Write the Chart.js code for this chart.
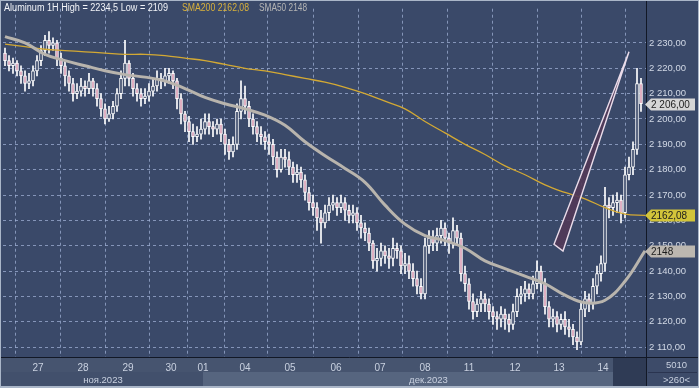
<!DOCTYPE html>
<html>
<head>
<meta charset="utf-8">
<script src="https://cdn.jsdelivr.net/npm/chart.js@4.4.0/dist/chart.umd.min.js"></script>
<style>
  html, body { margin: 0; padding: 0; background: #aab6c8; }
  #wrap { width: 699px; height: 388px; }
</style>
</head>
<body>
<div id="wrap"><canvas id="aluminum" width="699" height="388"></canvas></div>
<script>
// hourly candles, one entry per bar
const open = [2226,2223,2221,2222,2219,2217,2214,2215,2219,2223,2227,2231,2229,2230,2224,2221,2217,2214,2210,2211,
  2213,2212,2215,2212,2208,2204,2200,2202,2205,2210,2216,2222,2216,2212,2210,2208,2209,2211,2213,2216,
  2215,2217,2218,2215,2208,2202,2199,2195,2193,2194,2196,2199,2197,2196,2198,2194,2190,2187,2190,2203,
  2208,2205,2200,2197,2194,2193,2191,2190,2185,2180,2185,2184,2181,2178,2179,2176,2171,2167,2165,2161,
  2159,2163,2166,2167,2165,2167,2164,2162,2163,2159,2157,2155,2151,2144,2145,2148,2146,2145,2149,2148,
  2142,2143,2140,2137,2134,2131,2150,2153,2151,2154,2157,2153,2151,2156,2153,2139,2135,2128,2124,2127,
  2129,2127,2124,2122,2121,2123,2121,2119,2124,2130,2131,2133,2131,2135,2140,2135,2126,2121,2122,2119,
  2121,2118,2117,2114,2112,2125,2129,2127,2134,2139,2143,2166,2165,2167,2168,2163,2178,2181,2188,2214];
const high = [2228,2225,2224,2223,2221,2219,2218,2221,2225,2229,2233,2234.5,2232,2231,2226,2223,2219,2216,2214,2216,
  2215,2218,2216,2214,2210,2206,2205,2207,2212,2219,2231,2223,2218,2214,2212,2212,2214,2216,2219,2218,
  2220,2220,2219,2216,2210,2203,2201,2198,2197,2200,2202,2202,2199,2200,2200,2196,2192,2193,2206,2215,
  2213,2207,2202,2199,2197,2195,2194,2192,2187,2188,2188,2187,2183,2182,2181,2178,2173,2170,2167,2164,
  2166,2169,2170,2169,2170,2169,2166,2166,2165,2162,2159,2157,2152,2149,2151,2150,2149,2153,2151,2150,
  2147,2146,2143,2140,2137,2153,2156,2156,2157,2160,2159,2155,2161,2158,2155,2142,2137,2131,2129,2132,
  2131,2129,2126,2124,2126,2125,2123,2127,2133,2134,2136,2135,2138,2144,2142,2137,2128,2125,2124,2123,
  2124,2121,2119,2116,2128,2132,2131,2137,2142,2146,2173,2169,2170,2171,2170,2181,2185,2191,2220,2216];
const low = [2221,2219,2218,2217,2214,2211,2212,2213,2217,2221,2225,2226,2227,2221,2218,2213,2211,2207,2208,2209,
  2209,2210,2209,2205,2201,2198,2199,2200,2203,2208,2213,2213,2209,2207,2205,2206,2207,2209,2211,2212,
  2213,2214,2212,2204,2198,2195,2191,2190,2191,2192,2194,2194,2193,2194,2191,2186,2184,2185,2188,2200,
  2202,2197,2194,2191,2190,2188,2186,2182,2177,2179,2181,2178,2175,2175,2173,2168,2164,2162,2156,2151,
  2157,2160,2164,2162,2163,2160,2159,2159,2156,2153,2152,2148,2141,2140,2142,2143,2141,2142,2145,2139,
  2139,2137,2134,2131,2129,2129,2147,2148,2148,2151,2150,2147,2149,2150,2136,2132,2125,2121,2122,2124,
  2124,2121,2119,2117,2118,2117,2116,2117,2122,2127,2128,2129,2129,2133,2132,2123,2118,2118,2116,2117,
  2115,2114,2111,2109,2111,2122,2124,2125,2131,2136,2140,2161,2162,2163,2159,2161,2176,2178,2186,2203];
const close = [2223,2221,2222,2219,2217,2214,2215,2219,2223,2227,2231,2229,2230,2224,2221,2217,2214,2210,2211,2213,
  2212,2215,2212,2208,2204,2200,2202,2205,2210,2216,2222,2216,2212,2210,2208,2209,2211,2213,2216,2215,
  2217,2218,2215,2208,2202,2199,2195,2193,2194,2196,2199,2197,2196,2198,2194,2190,2187,2190,2203,2208,
  2205,2200,2197,2194,2193,2191,2190,2185,2180,2185,2184,2181,2178,2179,2176,2171,2167,2165,2161,2159,
  2163,2166,2167,2165,2167,2164,2162,2163,2159,2157,2155,2151,2144,2145,2148,2146,2145,2149,2148,2142,
  2143,2140,2137,2134,2131,2150,2153,2151,2154,2157,2153,2151,2156,2153,2139,2135,2128,2124,2127,2129,
  2127,2124,2122,2121,2123,2121,2119,2124,2130,2131,2133,2131,2135,2140,2135,2126,2121,2122,2119,2121,
  2118,2117,2114,2112,2125,2129,2127,2134,2139,2143,2166,2165,2167,2168,2163,2178,2181,2188,2214,2206];

// moving averages, sampled every 5 bars
const smaPos = [0,5,10,15,20,25,30,35,40,45,50,55,60,65,70,75,80,85,90,95,100,105,110,115,120,125,130,135,140,145,150,155,160];
const sma50 = [2232.5,2230,2225.5,2223,2221,2219,2217.5,2216.5,2215,2212,2208.5,2206,2204,2201.5,2197.5,2191,2185.5,
  2180.5,2175,2166,2158.5,2154,2152,2149,2144,2141,2138,2135,2130.5,2127.5,2128.5,2136,2148];
const sma200 = [2229.5,2228.5,2227.5,2227,2226.5,2226,2225.5,2225.5,2225,2224,2223,2221.5,2220,2219,2217.5,2216,2214.5,
  2212.5,2210,2207,2204,2199,2194.5,2190,2186,2181.5,2178,2174,2171,2168.5,2165,2162.5,2162];

// drawn wedge (bar index, price)
const wedgeX = [137.25, 156, 139.5];
const wedgeY = [2150.6, 2226.5, 2147.9];

const dayLabels = ['27','28','29','30','01','04','05','06','07','08','11','12','13','14'];
const dayPos = [8.25,19.5,30.75,41.5,49.5,60,71.25,82.75,93.75,105,116,127.5,138.5,149.5];
const monthLabels = ['ноя.2023', 'дек.2023'];

const tagValues = [2206, 2162.08, 2148];
const tagTexts = ['2 206,00', '2162,08', '2148'];

const plotBg = '#3a4969';
const gridColor = 'rgba(165,182,220,0.7)';
const FONT = '"Liberation Sans", Arial, sans-serif';

Chart.defaults.font.family = FONT;

const fmtPrice = (v) => Math.floor(v / 1000) + ' ' + String(v % 1000).padStart(3, '0') + ',00';

const decor = {
  id: 'decor',
  beforeDraw(chart) {
    const { ctx, chartArea: a, width, height } = chart;
    const x = chart.scales.x;
    const decX = x.getPixelForValue(dayPos[4]);
    ctx.save();
    ctx.fillStyle = '#aab6c8';
    ctx.fillRect(0, 0, width, height);
    ctx.fillStyle = plotBg;
    ctx.fillRect(1, 1, width - 2, height - 3);
    // x axis band
    ctx.fillStyle = '#46546f';
    ctx.fillRect(1, a.bottom, a.right - 1, height - 2 - a.bottom);
    ctx.fillStyle = '#42506c';
    ctx.fillRect(1, a.bottom + 15, decX - 1, height - 17 - a.bottom);
    ctx.fillStyle = '#56657f';
    ctx.fillRect(decX, a.bottom + 15, 613 - decX, height - 17 - a.bottom);
    ctx.fillStyle = '#2f3b55';
    ctx.fillRect(613, a.bottom, a.right - 613, height - 2 - a.bottom);
    ctx.fillStyle = '#3d4b69';
    ctx.fillRect(a.right, a.bottom, width - 1 - a.right, height - 2 - a.bottom);
    ctx.restore();
  },
  afterDatasetsDraw(chart) {
    const { ctx } = chart;
    const x = chart.scales.x, y = chart.scales.y;
    ctx.save();
    ctx.beginPath();
    wedgeX.forEach((wx, i) => {
      const px = x.getPixelForValue(wx), py = y.getPixelForValue(wedgeY[i]);
      if (i === 0) ctx.moveTo(px, py); else ctx.lineTo(px, py);
    });
    ctx.closePath();
    ctx.fillStyle = 'rgba(82,56,88,0.9)';
    ctx.fill();
    ctx.strokeStyle = '#eadcea';
    ctx.lineWidth = 1.4;
    ctx.stroke();
    ctx.restore();
  },
  afterDraw(chart) {
    const { ctx, chartArea: a, width, height } = chart;
    const x = chart.scales.x, y = chart.scales.y;
    ctx.save();
    // separators
    ctx.strokeStyle = '#121826';
    ctx.lineWidth = 1;
    ctx.beginPath();
    ctx.moveTo(a.right + 0.5, 1); ctx.lineTo(a.right + 0.5, height - 2);
    ctx.moveTo(1, a.bottom + 0.5); ctx.lineTo(width - 1, a.bottom + 0.5);
    ctx.stroke();
    ctx.strokeStyle = '#2a3450';
    ctx.beginPath();
    ctx.moveTo(a.right + 2, a.bottom + 15.5); ctx.lineTo(width - 2, a.bottom + 15.5);
    ctx.stroke();

    // header
    ctx.textBaseline = 'middle';
    ctx.textAlign = 'left';
    ctx.font = '10px ' + FONT;
    ctx.fillStyle = '#f2f4f8';
    ctx.fillText('Aluminum 1H High = 2234,5 Low = 2109', 4, 8, 164);
    ctx.fillStyle = '#d8b13c';
    ctx.fillText('SMA200 2162,08', 182, 8, 67);
    ctx.fillStyle = '#b4b4b4';
    ctx.fillText('SMA50 2148', 259, 8, 48);

    // price tags
    const tagFill = ['#d6d6d6', '#d2c43a', '#bcb7b0'];
    tagValues.forEach((v, i) => {
      const py = Math.round(y.getPixelForValue(v)) + 0.5;
      ctx.beginPath();
      ctx.moveTo(a.right - 1, py);
      ctx.lineTo(a.right + 5, py - 6);
      ctx.lineTo(width - 4, py - 6);
      ctx.lineTo(width - 4, py + 6);
      ctx.lineTo(a.right + 5, py + 6);
      ctx.closePath();
      ctx.fillStyle = tagFill[i];
      ctx.fill();
      ctx.fillStyle = '#1c1c1c';
      ctx.font = '10px ' + FONT;
      ctx.fillText(tagTexts[i], a.right + 5, py + 0.5, 44);
    });

    // month row
    ctx.textAlign = 'center';
    ctx.font = '9.5px ' + FONT;
    ctx.fillStyle = '#c9d1e0';
    const decX = x.getPixelForValue(dayPos[4]);
    ctx.fillText(monthLabels[0], (a.left + decX) / 2, a.bottom + 23.5);
    ctx.fillText(monthLabels[1], x.getPixelForValue((dayPos[4] + x.max) / 2) + 4, a.bottom + 23.5);

    // corner box
    ctx.fillText('5010', (a.right + width) / 2 + 4, a.bottom + 8.5);
    ctx.fillText('>260<', (a.right + width) / 2 + 4, a.bottom + 23.5);
    ctx.restore();
  }
};

const bars = close.map((c, i) => i);

new Chart(document.getElementById('aluminum'), {
  type: 'bar',
  data: {
    datasets: [
      {
        label: 'wick',
        data: bars.map((i) => ({ x: i, y: [low[i], high[i]] })),
        backgroundColor: '#ffffff',
        barThickness: 1,
        grouped: false,
        order: 3,
      },
      {
        label: 'body',
        data: bars.map((i) => ({ x: i, y: [open[i], close[i]] })),
        backgroundColor: bars.map((i) => (close[i] >= open[i] ? plotBg : '#dba2b7')),
        borderColor: '#ffffff',
        borderWidth: 1,
        borderSkipped: false,
        barThickness: 3,
        grouped: false,
        order: 2,
      },
      {
        type: 'line',
        label: 'SMA200',
        data: smaPos.map((p, k) => ({ x: p, y: sma200[k] })),
        borderColor: '#d3a934',
        borderWidth: 1.3,
        pointRadius: 0,
        tension: 0.4,
        order: 1,
      },
      {
        type: 'line',
        label: 'SMA50',
        data: smaPos.map((p, k) => ({ x: p, y: sma50[k] })),
        borderColor: '#b8b4ad',
        borderWidth: 3,
        pointRadius: 0,
        tension: 0.4,
        order: 0,
      },
    ],
  },
  options: {
    responsive: false,
    animation: false,
    devicePixelRatio: 1,
    layout: { padding: { left: 3, top: 2, right: 0, bottom: 0 } },
    plugins: { legend: { display: false }, tooltip: { enabled: false } },
    scales: {
      x: {
        type: 'linear',
        offset: false,
        min: -0.5,
        max: 160.25,
        afterFit: (s) => { s.height = 31; },
        afterBuildTicks: (s) => { s.ticks = dayPos.map((v) => ({ value: v })); },
        ticks: {
          autoSkip: false,
          maxRotation: 0,
          padding: 5,
          color: '#c9d1e0',
          font: { size: 10 },
          callback: (v, i) => dayLabels[i],
        },
        grid: { color: gridColor, drawTicks: false, lineWidth: 1 },
        border: { display: false, dash: [3, 3] },
      },
      y: {
        position: 'right',
        min: 2106.1,
        max: 2243.5,
        afterFit: (s) => { s.width = 53; },
        ticks: {
          stepSize: 10,
          includeBounds: false,
          padding: 3,
          color: '#d2d9e6',
          font: { size: 9.5 },
          callback: (v) => (v > 2235 ? null : fmtPrice(v)),
        },
        grid: { color: gridColor, drawTicks: false, lineWidth: 1 },
        border: { display: false, dash: [3, 3] },
      },
    },
  },
  plugins: [decor],
});
</script>
</body>
</html>
